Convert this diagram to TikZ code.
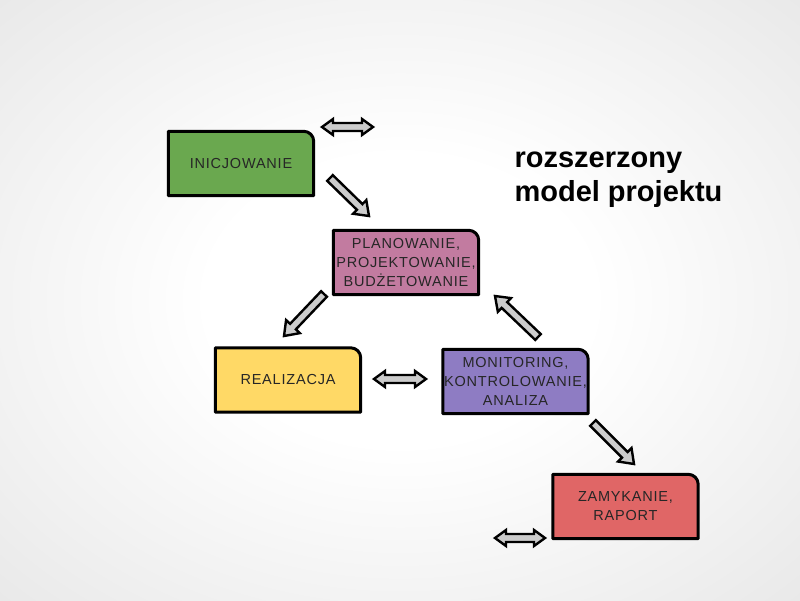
\documentclass[tikz,border=0pt]{standalone}
\usepackage{fontspec}
\setmainfont{Liberation Sans}
\newfontfamily\boxfont[LetterSpace=5.5]{Liberation Sans}
\usetikzlibrary{calc,backgrounds}
\definecolor{iniGreen}{HTML}{6AA84F}
\definecolor{planPink}{HTML}{C27BA0}
\definecolor{realYellow}{HTML}{FFD966}
\definecolor{monPurple}{HTML}{8E7CC3}
\definecolor{zamRed}{HTML}{E06666}
\pgfdeclareradialshading{slidebg}{\pgfpoint{0bp}{0bp}}{color(0bp)=(white); color(12bp)=(white); color(50bp)=(black!14); color(72bp)=(black!20)}
\tikzset{
  box/.style={minimum width=145pt, minimum height=64pt, inner sep=0pt, align=center,
    text=black!85, font=\boxfont\fontsize{14.5}{19}\selectfont},
  boxframe/.style={draw=black, line width=3pt, line join=round},
  blockarrow/.style={draw=black, line width=2.4pt, fill=black!20, line join=miter},
  title/.style={align=left, font=\fontsize{29}{34}\selectfont\bfseries}
}
% single block arrow: tail #1, tip #2
\newcommand{\arrowblock}[2]{%
  \draw[blockarrow] let \p1=($(#2)-(#1)$), \n1={atan2(\y1,\x1)} in
    ($(#1)+(\n1+90:4pt)$) -- ($(#2)!13pt!(#1)+(\n1+90:4pt)$)
    -- ($(#2)!13pt!(#1)+(\n1+90:9.5pt)$) -- (#2)
    -- ($(#2)!13pt!(#1)+(\n1-90:9.5pt)$) -- ($(#2)!13pt!(#1)+(\n1-90:4pt)$)
    -- ($(#1)+(\n1-90:4pt)$) -- cycle;}
% double block arrow between #1 and #2
\newcommand{\arrowtwin}[2]{%
  \draw[blockarrow] let \p1=($(#2)-(#1)$), \n1={atan2(\y1,\x1)} in
    (#1) -- ($(#1)!11pt!(#2)+(\n1+90:8pt)$) -- ($(#1)!11pt!(#2)+(\n1+90:4pt)$)
    -- ($(#2)!11pt!(#1)+(\n1+90:4pt)$) -- ($(#2)!11pt!(#1)+(\n1+90:8pt)$) -- (#2)
    -- ($(#2)!11pt!(#1)+(\n1-90:8pt)$) -- ($(#2)!11pt!(#1)+(\n1-90:4pt)$)
    -- ($(#1)!11pt!(#2)+(\n1-90:4pt)$) -- ($(#1)!11pt!(#2)+(\n1-90:8pt)$) -- cycle;}
\begin{document}
\begin{tikzpicture}[x=1pt,y=-1pt]
  \useasboundingbox (0,0) rectangle (800,600);
  \begin{pgfonlayer}{background}
    \shade[shading=slidebg] (0,0) rectangle (800,600);
  \end{pgfonlayer}

  \node[box] (ini) at (241,163.5) {INICJOWANIE};
  \node[box] (plan) at (406,262.5) {PLANOWANIE,\\PROJEKTOWANIE,\\BUDŻETOWANIE};
  \node[box] (real) at (288,380) {REALIZACJA};
  \node[box] (mon) at (515.5,381.5) {MONITORING,\\KONTROLOWANIE,\\ANALIZA};
  \node[box] (zam) at (625.5,506.5) {ZAMYKANIE,\\RAPORT};
  \node[title, anchor=west] (ttl) at (511,180) {rozszerzony\\model projektu};

  \begin{pgfonlayer}{background}
    \foreach \n/\c in {ini/iniGreen, plan/planPink, real/realYellow, mon/monPurple, zam/zamRed}
      \draw[boxframe, fill=\c] (\n.south west) -- (\n.north west)
        -- ($(\n.north east)+(-10pt,0pt)$) arc[start angle=90, end angle=0, radius=10pt]
        -- (\n.south east) -- cycle;
  \end{pgfonlayer}

  \coordinate (topL) at (322,127);
  \coordinate (topR) at (373,127);
  \coordinate (midL) at (374,379);
  \coordinate (midR) at (426,379);
  \coordinate (botL) at (495,538);
  \coordinate (botR) at (545,538);
  \coordinate (iniOut) at (330,178);
  \coordinate (planIn) at (369,216);
  \coordinate (planOut) at (324,294);
  \coordinate (realIn) at (284,336);
  \coordinate (monOut) at (538,337);
  \coordinate (planBack) at (495,296);
  \coordinate (monEnd) at (593,423);
  \coordinate (zamIn) at (634,464);

  \arrowtwin{topL}{topR}
  \arrowtwin{midL}{midR}
  \arrowtwin{botL}{botR}
  \arrowblock{iniOut}{planIn}
  \arrowblock{planOut}{realIn}
  \arrowblock{monOut}{planBack}
  \arrowblock{monEnd}{zamIn}
\end{tikzpicture}
\end{document}
